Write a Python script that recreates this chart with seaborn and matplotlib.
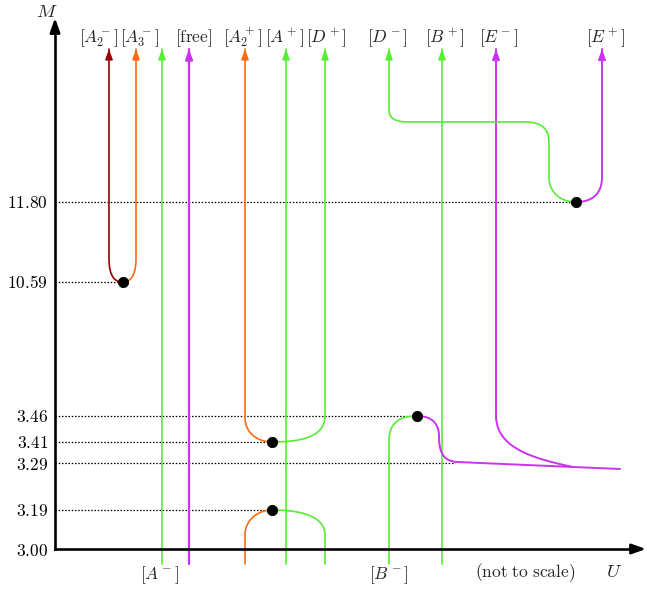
import matplotlib.pyplot as plt
import numpy as np
import pandas as pd
import seaborn as sns

# Data: mass levels (not to scale) and state labels
levels = [3.00, 3.19, 3.29, 3.41, 3.46, 10.59, 11.80]
level_height = [0, 39, 86, 107, 133, 267, 347]   # schematic heights, not to scale
top_labels = [r'$[A_2^-]$', r'$[A_3^-]$', r'$[\mathrm{free}]$', r'$[A_2^+]$', r'$[A^+]$',
              r'$[D^+]$', r'$[D^-]$', r'$[B^+]$', r'$[E^-]$', r'$[E^+]$']
top_label_u = [44, 85, 139, 188, 230, 271, 332, 390, 444, 551]
bottom_labels = [r'$[A^-]$', r'$[B^-]$']
bottom_label_u = [105, 334]

# Layout of the branches
col = dict(A2m=54, A3m=81, Am=107, free=134, A2p=190, Ap=231, Dp=270,
           Dm=334, Bp=387, Em=441, Ep=547)
TOP, BOT = 500, -15
GREEN, ORANGE, DRED, PURPLE = '#55ee33', '#ff6a10', '#990000', '#cc33ee'
FS = 12.5

sns.set_theme(style='white')
plt.rcParams['mathtext.fontset'] = 'cm'
plt.rcParams['font.family'] = ['DejaVu Serif']

h = dict(zip(levels, level_height))


def bez(p0, c0, c1, p1, n=40):
    t = np.linspace(0, 1, n)[:, None]
    p0, c0, c1, p1 = map(np.array, (p0, c0, c1, p1))
    return (1 - t) ** 3 * p0 + 3 * (1 - t) ** 2 * t * c0 + 3 * (1 - t) * t ** 2 * c1 + t ** 3 * p1


def path(*segs):
    return np.vstack([np.atleast_2d(s) for s in segs])


fig = plt.figure(figsize=(6.47, 5.93), dpi=100)
ax = fig.add_axes([55 / 647, 44 / 593, 590 / 647, 531 / 593])
ax.set_xlim(0, 590)
ax.set_ylim(0, 531)

curves = []   # (points, colour, width, arrow at top)

# 10.59 : A2- / A3-
y = h[10.59]
dx = (col['A2m'] + col['A3m']) / 2
curves.append((path([col['A2m'], TOP], bez((col['A2m'], y + 24), (col['A2m'], y + 6), (dx - 8, y), (dx, y))), DRED, 1.2, True))
curves.append((path(bez((dx, y), (dx + 8, y), (col['A3m'], y + 6), (col['A3m'], y + 24)), [col['A3m'], TOP]), ORANGE, 1.2, True))

# straight branches
for k, c, w, up in [('Am', GREEN, 1.2, True), ('free', PURPLE, 1.6, True),
                    ('Ap', GREEN, 1.2, True), ('Bp', GREEN, 1.2, True)]:
    curves.append((path([col[k], BOT], [col[k], TOP]), c, w, up))

# 3.41 : A2+ / D+
y = h[3.41]
dA = 217
curves.append((path([col['A2p'], TOP], bez((col['A2p'], y + 25), (col['A2p'], y + 7), (dA - 12, y), (dA, y))), ORANGE, 1.2, True))
curves.append((path(bez((dA, y), (248, y), (col['Dp'], y + 6), (col['Dp'], y + 26)), [col['Dp'], TOP]), GREEN, 1.2, True))

# 3.19 : lower pair
y = h[3.19]
curves.append((path([col['A2p'], BOT], bez((col['A2p'], 14), (col['A2p'], y - 10), (dA - 14, y), (dA, y))), ORANGE, 1.2, False))
curves.append((path(bez((dA, y), (250, y), (col['Dp'], y - 8), (col['Dp'], 14)), [col['Dp'], BOT]), GREEN, 1.2, False))

# 3.46 : B- / continuum
y = h[3.46]
dB = 362
curves.append((path([col['Dm'], BOT], bez((col['Dm'], 108), (col['Dm'], y - 4), (dB - 14, y), (dB, y))), GREEN, 1.2, False))
curves.append((path(bez((dB, y), (376, y), (384, 126), (384, 113)),
                     bez((384, 113), (384, 94), (390, 88), (402, h[3.29] + 1)), [565, 80]), PURPLE, 1.4, False))

# E- tail
curves.append((path([col['Em'], TOP], bez((col['Em'], 134), (col['Em'], 104), (470, 92), (518, 82))), PURPLE, 1.4, True))

# 11.80 : D- / E+
y = h[11.80]
dE = 521
curves.append((path([col['Dm'], TOP], bez((col['Dm'], 440), (col['Dm'], 429), (342, 427), (355, 427)), [470, 427],
                    bez((470, 427), (489, 427), (494, 418), (494, 406)),
                    bez((494, 372), (494, y + 10), (505, y), (dE, y))), GREEN, 1.2, True))
curves.append((path(bez((dE, y), (537, y), (col['Ep'], y + 8), (col['Ep'], y + 25)), [col['Ep'], TOP]), PURPLE, 1.4, True))

for pts, c, w, up in curves:
    df = pd.DataFrame(pts, columns=['U', 'M'])
    sns.lineplot(data=df, x='U', y='M', sort=False, estimator=None, color=c, lw=w, ax=ax)
    if up:
        xt = pts[np.argmax(pts[:, 1]), 0]
        ax.annotate('', xy=(xt, TOP), xytext=(xt, TOP - 8),
                    arrowprops=dict(arrowstyle='-|>,head_length=0.5,head_width=0.18', color=c,
                                    lw=w, shrinkA=0, shrinkB=0), annotation_clip=False)

# dotted guide lines
dot_end = {3.19: dA, 3.29: 400, 3.41: dA, 3.46: dB, 10.59: dx, 11.80: dE}
for v, xe in dot_end.items():
    ax.plot([0, xe], [h[v], h[v]], color='black', lw=0.9, ls=(0, (1.2, 1.4)), zorder=1)

dots = pd.DataFrame({'U': [dx, dA, dA, dB, dE],
                     'M': [h[10.59], h[3.41], h[3.19], h[3.46], h[11.80]]})
sns.scatterplot(data=dots, x='U', y='M', color='black', s=55, edgecolor='black', zorder=5, ax=ax)

for line in ax.lines:
    line.set_clip_on(False)
for coll in ax.collections:
    coll.set_clip_on(False)

# axes
sns.despine(ax=ax)
for s in ['left', 'bottom']:
    ax.spines[s].set_linewidth(1.9)
    ax.spines[s].set_color('black')
ax.spines['left'].set_bounds(0, 524)
ax.spines['bottom'].set_bounds(0, 582)
ax.annotate('', xy=(0, 531), xytext=(0, 520), arrowprops=dict(arrowstyle='-|>,head_length=0.7,head_width=0.25',
            color='black', lw=1.9, shrinkA=0, shrinkB=0), annotation_clip=False)
ax.annotate('', xy=(591, 0), xytext=(580, 0), arrowprops=dict(arrowstyle='-|>,head_length=0.7,head_width=0.25',
            color='black', lw=1.9, shrinkA=0, shrinkB=0), annotation_clip=False)

ax.set_xticks([])
ax.set_yticks(level_height, labels=[f'${v:.2f}$' for v in levels])
ax.tick_params(axis='y', length=0, pad=5, labelsize=FS, colors='black')
ax.set_xlabel('')
ax.set_ylabel('')

for lab, u in zip(top_labels, top_label_u):
    ax.text(u, 511, lab, ha='center', va='center', fontsize=FS)
for lab, u in zip(bottom_labels, bottom_label_u):
    ax.text(u, -26, lab, ha='center', va='center', fontsize=FS)
ax.text(470, -24, r'$(\mathrm{not\ to\ scale})$', ha='center', va='center', fontsize=FS)
ax.text(559, -23, r'$U$', ha='center', va='center', fontsize=13.5)
ax.text(-8, 537, r'$M$', ha='center', va='center', fontsize=13.5)

fig.savefig('out.png', dpi=100)
